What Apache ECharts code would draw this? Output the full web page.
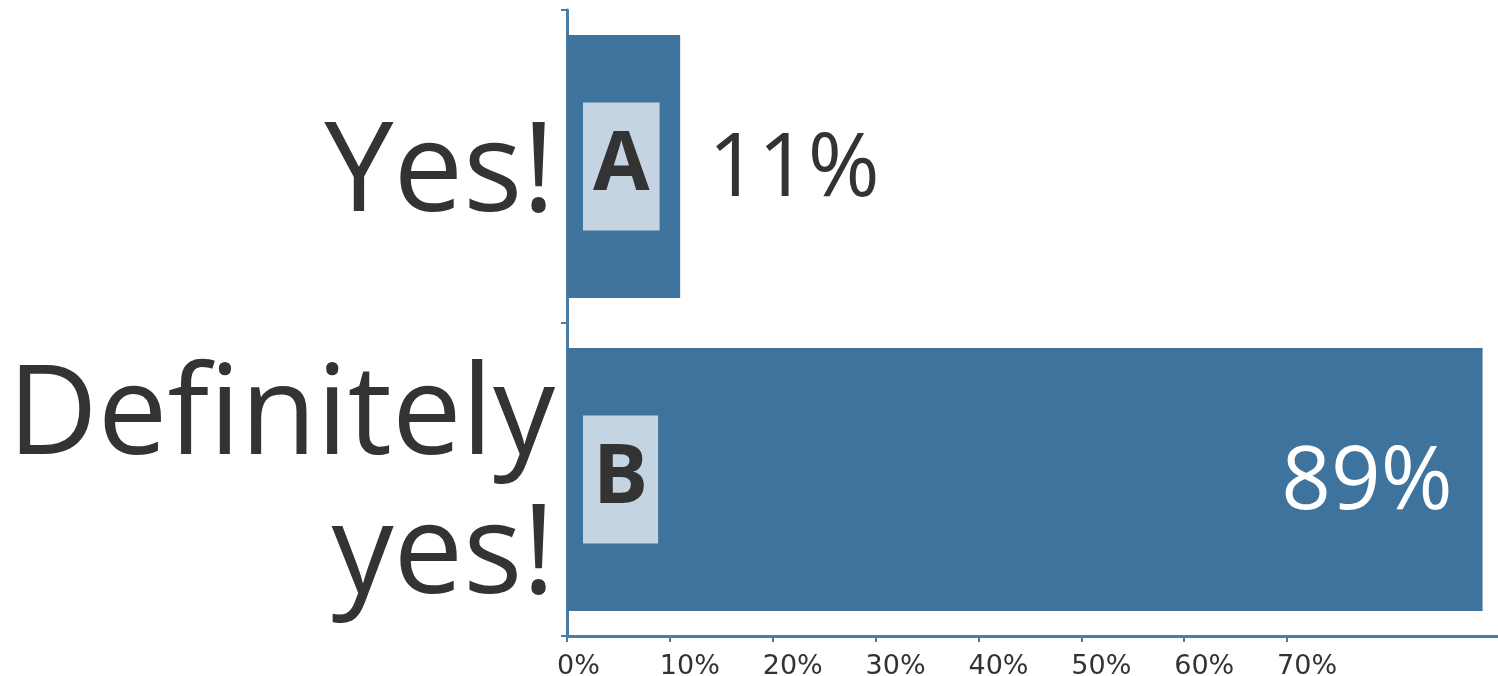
<!DOCTYPE html>
<html>
<head>
<meta charset="utf-8">
<script src="https://cdn.jsdelivr.net/npm/echarts@6/dist/echarts.min.js"></script>
<style>
html,body{margin:0;padding:0;background:#fff;}
#chart{width:1498px;height:676px;}
</style>
</head>
<body>
<div id="chart"></div>
<script>
const categories = ['Yes!', 'Definitely\nyes!'];
const values = [11, 89];
const letters = ['A', 'B'];
const tickValues = [0, 10, 20, 30, 40, 50, 60, 70];

const barColor = '#3d739d';
const axisColor = '#4a7ca4';
const boxColor = '#c5d4e2';
const textColor = '#333333';

const chart = echarts.init(document.getElementById('chart'));
chart.setOption({
  backgroundColor: '#ffffff',
  animation: false,
  grid: { left: 567, right: 0, top: 10, bottom: 40, containLabel: false, outerBoundsMode: 'none' },
  xAxis: {
    type: 'value',
    min: 0,
    max: 90.5,
    splitLine: { show: false },
    axisLine: { show: true, lineStyle: { color: axisColor, width: 3 } },
    axisTick: { show: true, customValues: tickValues, length: 6, lineStyle: { color: axisColor, width: 2 } },
    axisLabel: {
      customValues: tickValues,
      formatter: v => v + '%',
      fontFamily: 'DejaVu Sans',
      fontSize: 27,
      color: textColor,
      align: 'left',
      padding: [0, 0, 0, -10],
      margin: 17
    }
  },
  yAxis: {
    type: 'category',
    data: categories,
    inverse: true,
    axisLine: { show: true, lineStyle: { color: axisColor, width: 3 } },
    axisTick: { show: true, length: 6, lineStyle: { color: axisColor, width: 2 } },
    axisLabel: {
      formatter: v => '{s| }\n' + v.split('\n').map(t => '{t|' + t + '}').join('\n'),
      margin: 12,
      align: 'right',
      rich: {
        s: { fontSize: 2, lineHeight: 18 },
        t: {
          fontFamily: 'Open Sans',
          fontSize: 124,
          lineHeight: 139,
          color: textColor,
          align: 'right'
        }
      }
    }
  },
  series: [
    {
      type: 'bar',
      data: values.map((v, i) => ({
        value: v,
        label: i === 0
          ? { position: 'right', distance: 28 }
          : { position: 'insideRight', distance: 30 }
      })),
      barWidth: '84%',
      itemStyle: { color: barColor },
      label: {
        show: true,
        formatter: p => '{s| }\n{' + (p.dataIndex === 0 ? 'd' : 'w') + '|' + p.value + '%}',
        rich: {
          s: { fontSize: 2, lineHeight: 10 },
          d: { fontFamily: 'Open Sans', fontSize: 87, color: textColor },
          w: { fontFamily: 'Open Sans', fontSize: 87, color: '#ffffff' }
        }
      },
      z: 2
    },
    {
      type: 'bar',
      data: values,
      barWidth: '84%',
      barGap: '-100%',
      itemStyle: { color: 'rgba(0,0,0,0)' },
      label: {
        show: true,
        position: 'insideLeft',
        distance: 16,
        formatter: p => '{b|' + letters[p.dataIndex] + '}',
        rich: {
          b: {
            fontFamily: 'Open Sans',
            fontWeight: 'bold',
            fontSize: 82,
            color: textColor,
            backgroundColor: boxColor,
            padding: [0, 10],
            height: 128,
            lineHeight: 128,
            align: 'center',
            verticalAlign: 'middle'
          }
        }
      },
      z: 3
    }
  ]
});
</script>
</body>
</html>
